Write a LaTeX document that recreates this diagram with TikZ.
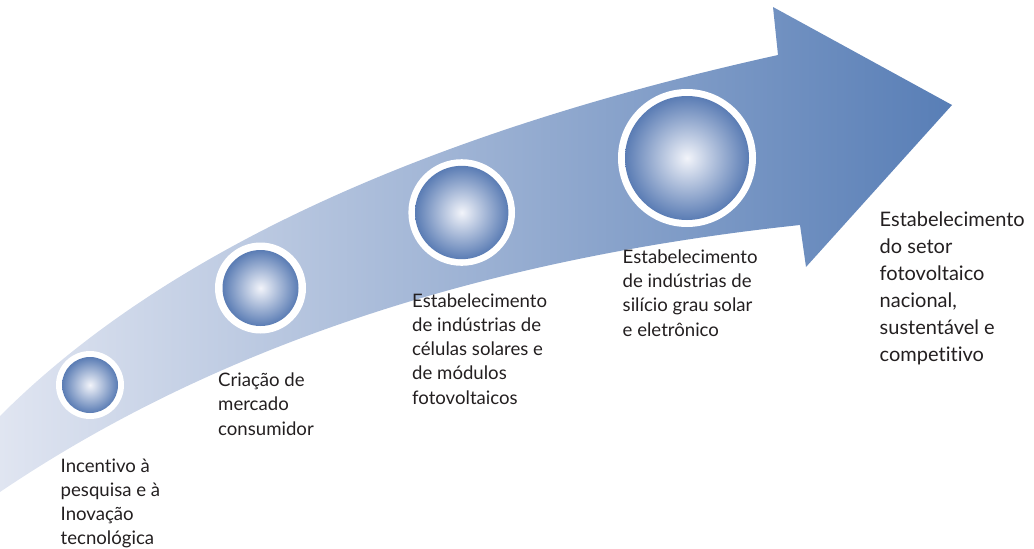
\documentclass[tikz,border=0pt]{standalone}
\usepackage{fontspec}
\setmainfont{Lato}[Ligatures={NoCommon}]
\definecolor{arrowL}{RGB}{224,229,241}
\definecolor{arrowR}{RGB}{88,126,182}
\definecolor{ballIn}{RGB}{242,244,250}
\definecolor{ballOut}{RGB}{90,124,180}
\definecolor{txt}{RGB}{35,31,32}
\tikzset{
  ring/.style={fill=white},
  ball/.style={inner color=ballIn, outer color=ballOut},
  lbl/.style={anchor=base west, inner sep=0pt, align=left, text=txt,
    font=\fontsize{18.6}{24.3}\selectfont},
  lblbig/.style={anchor=base west, inner sep=0pt, align=left, text=txt,
    font=\fontsize{20}{27}\selectfont},
}
\begin{document}
\begin{tikzpicture}[x=1pt,y=-1pt]
\useasboundingbox (0,0) rectangle (1034,549);
% arrow body
\shade[left color=arrowL, right color=arrowR]
  (0,416) .. controls (162,254) and (421,134) .. (778,55)
  -- (773,7) -- (952,105) -- (806,267) -- (800,225)
  .. controls (480,259) and (213,348) .. (0,492) -- cycle;
% milestones
\foreach \n/\cx/\cy/\ro/\ri in {c1/90/385/34/28, c2/260.5/288/45.5/38, c3/461.7/212.5/53.3/46.7, c4/687/158/69/62}{
  \fill[ring] (\cx,\cy) circle (\ro);
  \shade[ball] (\cx,\cy) circle (\ri);
  \coordinate (\n) at (\cx,\cy);
}
% labels (anchored at the baseline of the last line)
\node[lbl] (t1) at (60.5,544.9) {Incentivo à\\pesquisa e à\\Inovação\\tecnológica};
\node[lbl] (t2) at (218,435.1) {Criação de\\mercado\\consumidor};
\node[lbl] (t3) at (412,404.2) {Estabelecimento\\de indústrias de\\células solares e\\de módulos\\fotovoltaicos};
\node[lbl] (t4) at (622.5,336.2) {Estabelecimento\\de indústrias de\\silício grau solar\\e eletrônico};
\node[lblbig] (t5) at (879.5,361.7) {Estabelecimento\\do setor\\fotovoltaico\\nacional,\\sustentável e\\competitivo};
\end{tikzpicture}
\end{document}
